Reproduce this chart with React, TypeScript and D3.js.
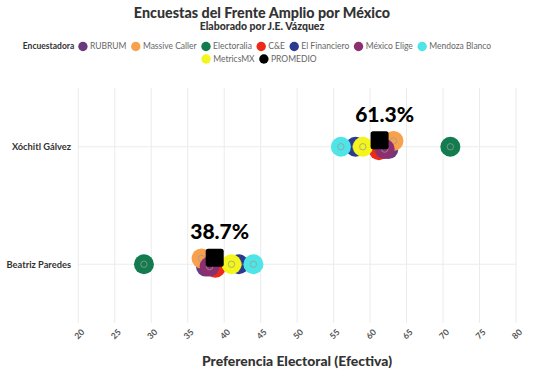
import React from "react";
import * as d3 from "d3";

const candidates = ["Xóchitl Gálvez", "Beatriz Paredes"];
const pollsters = ["RUBRUM", "Massive Caller", "Electoralia", "C&E", "El Financiero", "México Elige", "Mendoza Blanco", "MetricsMX", "PROMEDIO"];
const pollsterColors = ["#6b3a7d", "#f7a14e", "#137c4f", "#ec2a17", "#2b3990", "#8c2f6f", "#4fe5e6", "#f3f51c", "#000000"];
const xochitlValues = [62.5, 63.2, 71, 61.2, 58, 62, 56, 59, 61.3];
const beatrizValues = [37.5, 36.9, 29, 38.8, 42, 38, 44, 41, 38.7];
// vertical jitter of each pollster (in category units)
const jitterValues = [0.02, -0.05, 0, 0.03, 0, 0.02, 0, 0, -0.055];
const xTicks = [20, 25, 30, 35, 40, 45, 50, 55, 60, 65, 70, 75, 80];
const averageLabels = ["61.3%", "38.7%"];

const W = 533, H = 380;
const FONT = "Lato, 'Noto Sans', sans-serif";

function measure(text: string, font: string): number {
  const c = document.createElement("canvas").getContext("2d")!;
  c.font = font;
  return c.measureText(text).width;
}

export default function App() {
  const x = d3.scaleLinear().domain([20, 80]).range([78.3, 516]);
  const y = d3.scalePoint<string>().domain(candidates).range([88, 323]).padding(0.5);
  const step = y.step();
  const valuesByCand = [xochitlValues, beatrizValues];

  // legend layout
  const legFs = 8.5;
  const legFont = `${legFs}px ${FONT}`;
  const headFont = `bold ${legFs}px ${FONT}`;
  const r = 4.7, gapCT = 2.4, gapItem = 4.6;
  const itemW = (t: string) => r * 2 + gapCT + measure(t, legFont);
  const row1 = pollsters.slice(0, 7);
  const row2 = pollsters.slice(7);
  const headW = measure("Encuestadora", headFont) + 4;
  const row1W = headW + row1.reduce((s, t) => s + itemW(t), 0) + gapItem * (row1.length - 1);
  const row2W = row2.reduce((s, t) => s + itemW(t), 0) + gapItem * (row2.length - 1);
  const cx = 257;
  const items: { t: string; color: string; x: number; y: number }[] = [];
  let px = cx - row1W / 2 + headW;
  const head1X = cx - row1W / 2;
  row1.forEach((t, i) => {
    items.push({ t, color: pollsterColors[i], x: px, y: 46.5 });
    px += itemW(t) + gapItem;
  });
  px = cx - row2W / 2 + 2;
  row2.forEach((t, i) => {
    items.push({ t, color: pollsterColors[7 + i], x: px, y: 59 });
    px += itemW(t) + gapItem;
  });

  return (
    <svg width={W} height={H} style={{ position: "absolute", left: 0, top: 0, background: "#fff" }} fontFamily={FONT}>
      <text x={262} y={18} textAnchor="middle" fontSize={14.3} fontWeight={900} fill="#333">Encuestas del Frente Amplio por México</text>
      <text x={262} y={30} textAnchor="middle" fontSize={10.5} fontWeight={900} fill="#333">Elaborado por J.E. Vázquez</text>

      <text x={head1X} y={46.5} dy="0.35em" fontSize={legFs} fontWeight="bold" fill="#333">Encuestadora</text>
      {items.map((it) => (
        <g key={it.t}>
          <circle cx={it.x + r} cy={it.y} r={r} fill={it.color} />
          <text x={it.x + 2 * r + gapCT} y={it.y} dy="0.35em" fontSize={legFs} fill="#666">{it.t}</text>
        </g>
      ))}

      {xTicks.map((t) => (
        <line key={"gx" + t} x1={x(t)} x2={x(t)} y1={88} y2={323} stroke="#ebebeb" strokeWidth={1} />
      ))}
      {candidates.map((c) => (
        <line key={"gy" + c} x1={78.3} x2={516} y1={y(c)} y2={y(c)} stroke="#ebebeb" strokeWidth={1.2} />
      ))}

      {candidates.map((c) => (
        <text key={"yl" + c} x={71} y={y(c)} dy="0.35em" textAnchor="end" fontSize={9.3} fontWeight="bold" fill="#333">{c}</text>
      ))}

      {xTicks.map((t) => (
        <text key={"xl" + t} transform={`translate(${x(t) + 1},${334}) rotate(-45)`} textAnchor="middle" dy="0.35em" fontSize={8.6} fontWeight="bold" fill="#555">{t}</text>
      ))}
      <text x={297} y={366} textAnchor="middle" fontSize={13.9} fontWeight={900} fill="#333">Preferencia Electoral (Efectiva)</text>

      {candidates.map((c, ci) => (
        <g key={"pts" + c}>
          {pollsters.map((p, pi) => {
            const v = valuesByCand[ci][pi];
            const px2 = x(v);
            const py = (y(c) as number) + jitterValues[pi] * step;
            if (p === "PROMEDIO") {
              return <rect key={p} x={px2 - 9} y={py - 9} width={18} height={18} rx={2.5} fill="#000" />;
            }
            return (
              <g key={p}>
                <circle cx={px2} cy={py} r={10} fill={pollsterColors[pi]} />
                <circle cx={px2} cy={py} r={3.2} fill="none" stroke="#999" strokeOpacity={0.75} strokeWidth={1} />
              </g>
            );
          })}
          <text x={x(valuesByCand[ci][8]) + 5} y={(y(c) as number) - 25} textAnchor="middle" fontSize={21} fontWeight={900} fill="#000">{averageLabels[ci]}</text>
        </g>
      ))}
    </svg>
  );
}
